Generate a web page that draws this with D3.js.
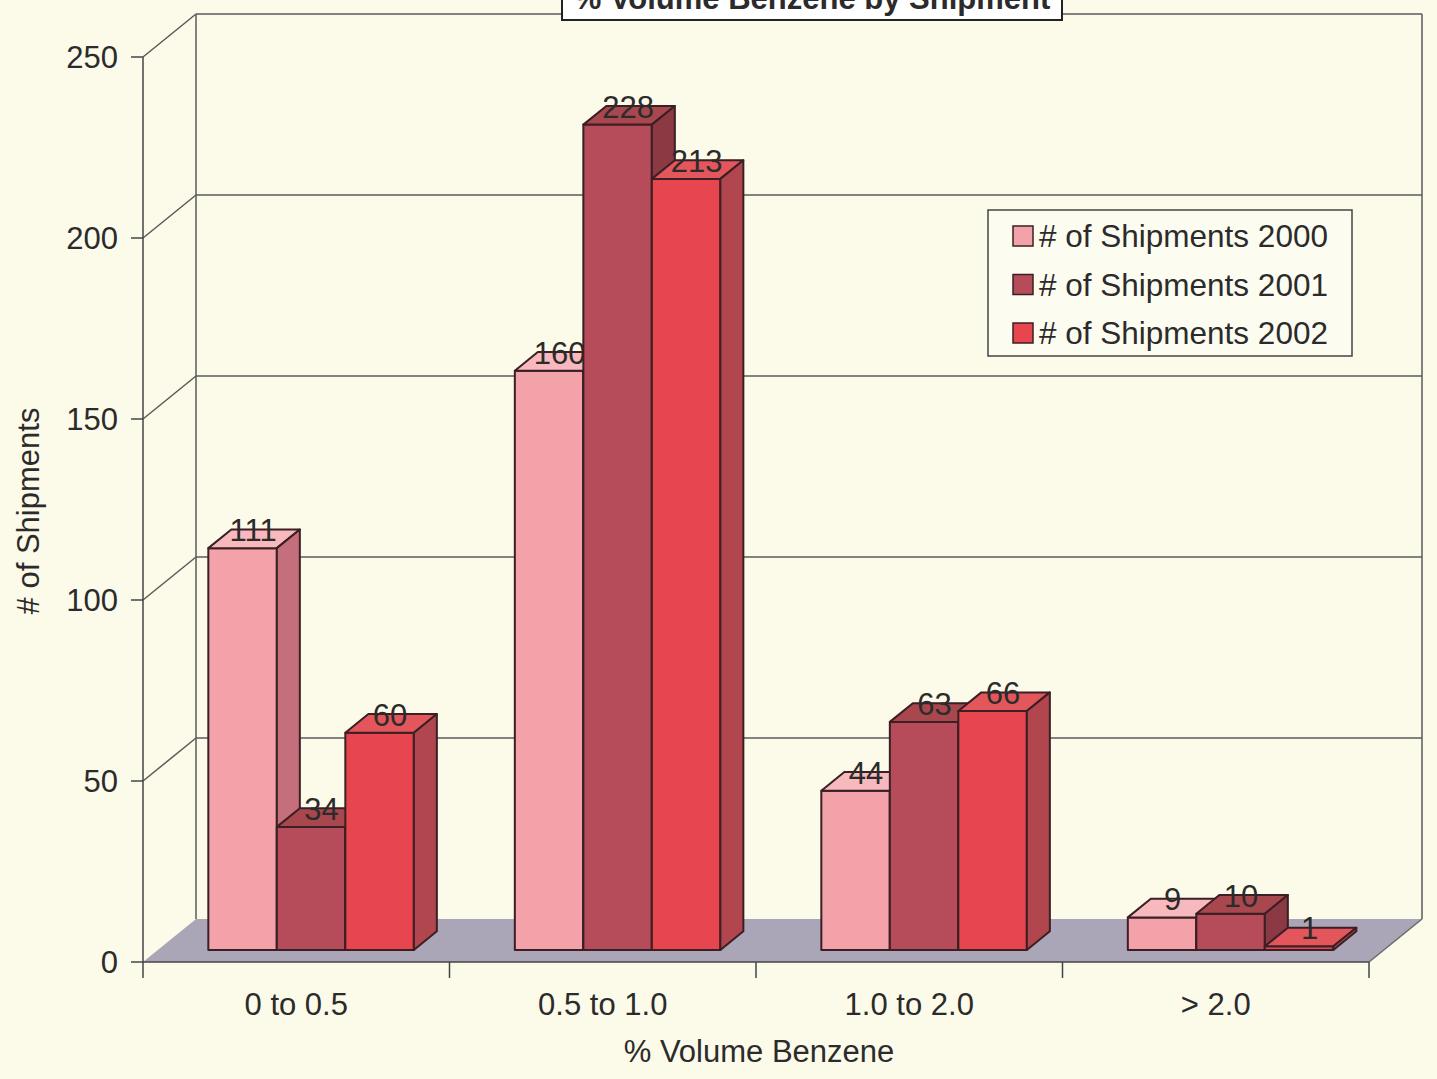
<!DOCTYPE html>
<html>
<head>
<meta charset="utf-8">
<script src="https://cdn.jsdelivr.net/npm/d3@7"></script>
<style>
  html, body { margin: 0; padding: 0; background: #fcfae9; }
  svg { display: block; }
  text { font-family: "Liberation Sans", Arial, sans-serif; fill: #2b2b2b; }
</style>
</head>
<body>
<svg id="chart" width="1437" height="1079"></svg>
<script>
// Data
const categories = ["0 to 0.5", "0.5 to 1.0", "1.0 to 2.0", "> 2.0"];
const seriesNames = ["# of Shipments 2000", "# of Shipments 2001", "# of Shipments 2002"];
const shipments2000 = [111, 160, 44, 9];
const shipments2001 = [34, 228, 63, 10];
const shipments2002 = [60, 213, 66, 1];
const yTicks = [0, 50, 100, 150, 200, 250];
const chartTitle = "% Volume Benzene by Shipment";
const xTitle = "% Volume Benzene";
const yTitle = "# of Shipments";

const seriesValues = [shipments2000, shipments2001, shipments2002];

// Face colours per series: front, top, side
const palette = [
  { front: "#f3a2aa", top: "#f7b9be", side: "#c66f7c" },
  { front: "#b64b59", top: "#a9474f", side: "#8b3943" },
  { front: "#e8464f", top: "#e2565c", side: "#b2464f" }
];

const svg = d3.select("#chart");

// Oblique 3D layout: front plane, plus a receding depth offset
const left = 143, right = 1369, base = 962;
const DX = 53, DY = 43;            // full depth offset of the back wall
const barF0 = 0.28, barF1 = 0.714; // depth span occupied by the bars

const y = d3.scaleLinear().domain([0, 250]).range([base, 57]);
const x0 = d3.scaleBand().domain(categories).range([left, right]).paddingInner(0).paddingOuter(0);
const x1 = d3.scaleBand().domain(seriesNames).range([0, x0.bandwidth()]).paddingInner(0).paddingOuter(0.737);

const proj = (px, v, f) => [px + f * DX, y(v) - f * DY];
const pts = arr => arr.map(p => p.join(",")).join(" ");

const gridColor = "#5a5a5a";

// Back wall gridlines
const wall = svg.append("g");
yTicks.filter(t => t > 0).forEach(t => {
  const a = proj(left, t, 1), b = proj(right, t, 1);
  wall.append("line").attr("x1", a[0]).attr("y1", a[1]).attr("x2", b[0]).attr("y2", b[1])
    .attr("stroke", gridColor).attr("stroke-width", 1.5);
  // side wall connector from the front axis to the back wall
  const c = proj(left, t, 0);
  wall.append("line").attr("x1", c[0]).attr("y1", c[1]).attr("x2", a[0]).attr("y2", a[1])
    .attr("stroke", gridColor).attr("stroke-width", 1.5);
});
// back wall left and right edges
[left, right].forEach(px => {
  const a = proj(px, 0, 1), b = proj(px, 250, 1);
  wall.append("line").attr("x1", a[0]).attr("y1", a[1]).attr("x2", b[0]).attr("y2", b[1])
    .attr("stroke", gridColor).attr("stroke-width", 1.5);
});

// Floor
svg.append("polygon")
  .attr("points", pts([proj(left, 0, 0), proj(right, 0, 0), proj(right, 0, 1), proj(left, 0, 1)]))
  .attr("fill", "#aaa6b7");
{
  const a = proj(right, 0, 0), b = proj(right, 0, 1);
  svg.append("line").attr("x1", a[0]).attr("y1", a[1]).attr("x2", b[0]).attr("y2", b[1])
    .attr("stroke", "#6a6a6a").attr("stroke-width", 1.5);
}

// Axes
const axisColor = "#444";
svg.append("line").attr("x1", left).attr("y1", y(0)).attr("x2", left).attr("y2", y(250))
  .attr("stroke", axisColor).attr("stroke-width", 1.5);
svg.append("line").attr("x1", left).attr("y1", base).attr("x2", right).attr("y2", base)
  .attr("stroke", axisColor).attr("stroke-width", 1.5);

const yAxis = svg.append("g");
yTicks.forEach(t => {
  yAxis.append("line").attr("x1", left - 12).attr("x2", left).attr("y1", y(t)).attr("y2", y(t))
    .attr("stroke", axisColor).attr("stroke-width", 1.5);
  yAxis.append("text").attr("x", 118).attr("y", y(t)).attr("dy", "0.36em")
    .attr("text-anchor", "end").attr("font-size", 31).attr("fill", "#3a3a3a").text(t);
});

const xTickPositions = categories.map(c => x0(c)).concat([right]);
xTickPositions.forEach(px => {
  svg.append("line").attr("x1", px).attr("x2", px).attr("y1", base).attr("y2", base + 16)
    .attr("stroke", axisColor).attr("stroke-width", 1.5);
});
categories.forEach(c => {
  svg.append("text").attr("x", x0(c) + x0.bandwidth() / 2).attr("y", 1015)
    .attr("text-anchor", "middle").attr("font-size", 31).attr("fill", "#3a3a3a").text(c);
});

// Bars, drawn left to right so nearer neighbours overlap correctly
const barStroke = "#3a1f24";
const bars = svg.append("g");
categories.forEach((c, ci) => {
  seriesNames.forEach((s, si) => {
    const v = seriesValues[si][ci];
    const xa = x0(c) + x1(s), xb = xa + x1.bandwidth();
    const col = palette[si];
    const g = bars.append("g");
    // front face
    g.append("polygon")
      .attr("points", pts([proj(xa, 0, barF0), proj(xb, 0, barF0), proj(xb, v, barF0), proj(xa, v, barF0)]))
      .attr("fill", col.front).attr("stroke", barStroke).attr("stroke-width", 2).attr("stroke-linejoin", "round");
    // top face
    g.append("polygon")
      .attr("points", pts([proj(xa, v, barF0), proj(xb, v, barF0), proj(xb, v, barF1), proj(xa, v, barF1)]))
      .attr("fill", col.top).attr("stroke", barStroke).attr("stroke-width", 2).attr("stroke-linejoin", "round");
    // side face
    g.append("polygon")
      .attr("points", pts([proj(xb, 0, barF0), proj(xb, 0, barF1), proj(xb, v, barF1), proj(xb, v, barF0)]))
      .attr("fill", col.side).attr("stroke", barStroke).attr("stroke-width", 2).attr("stroke-linejoin", "round");
    // value label on the top face
    const lp = proj((xa + xb) / 2, v, (barF0 + barF1) / 2);
    g.append("text").attr("x", lp[0] - 1).attr("y", proj(xa, v, barF0)[1] - 7)
      .attr("text-anchor", "middle").attr("font-size", 31).attr("fill", "#333").text(v);
  });
});

// Axis titles
svg.append("text").attr("x", 759).attr("y", 1062).attr("text-anchor", "middle")
  .attr("font-size", 31).attr("fill", "#2b2b2b").text(xTitle);
svg.append("text").attr("transform", "translate(39,511) rotate(-90)").attr("text-anchor", "middle")
  .attr("font-size", 31).attr("fill", "#2b2b2b").text(yTitle);

// Legend
const legend = svg.append("g");
legend.append("rect").attr("x", 988).attr("y", 210).attr("width", 364).attr("height", 146)
  .attr("fill", "#fdfcf0").attr("stroke", "#444").attr("stroke-width", 1.5);
seriesNames.forEach((s, i) => {
  const cy = 236 + i * 48.5;
  legend.append("rect").attr("x", 1013).attr("y", cy - 10).attr("width", 20).attr("height", 20)
    .attr("fill", palette[i].front).attr("stroke", "#3a1f24").attr("stroke-width", 1.5);
  legend.append("text").attr("x", 1039).attr("y", cy).attr("dy", "0.36em")
    .attr("font-size", 31.5).attr("fill", "#2b2b2b").text(s);
});

// Title box
svg.append("rect").attr("x", 562).attr("y", -20).attr("width", 500).attr("height", 40)
  .attr("fill", "#ffffff").attr("stroke", "#222").attr("stroke-width", 2);
svg.append("text").attr("x", 812).attr("y", 9).attr("text-anchor", "middle")
  .attr("font-size", 31).attr("font-weight", "bold").attr("fill", "#1a1a1a").text(chartTitle);
</script>
</body>
</html>
